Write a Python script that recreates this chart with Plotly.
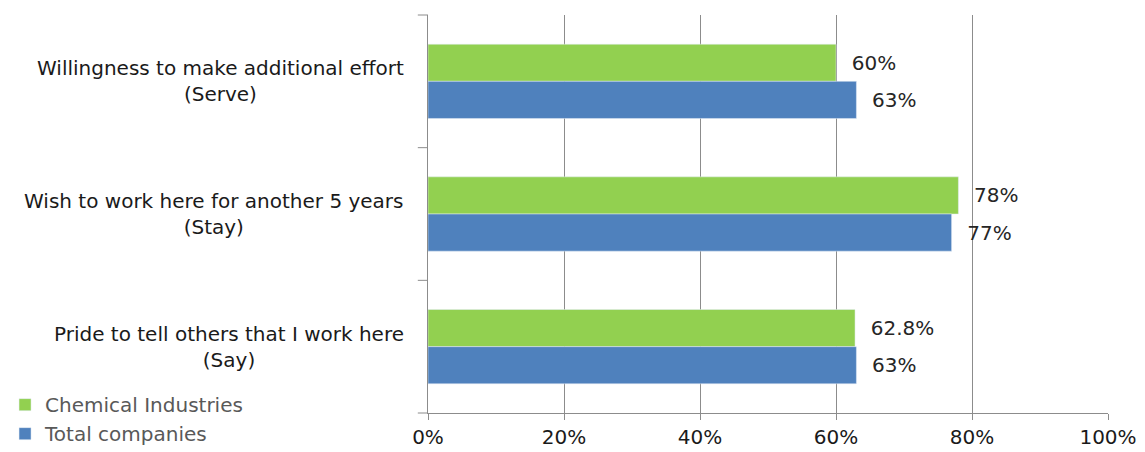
import plotly.graph_objects as go

# Engagement dimensions, listed top to bottom
categories = [
    "Willingness to make additional effort<br>(Serve)",
    "Wish to work here for another 5 years<br>(Stay)",
    "Pride to tell others that I work here<br>(Say)",
]
chemical = [60, 78, 62.8]
total = [63, 77, 63]
x_ticks = [0, 20, 40, 60, 80, 100]
x_tick_labels = ["0%", "20%", "40%", "60%", "80%", "100%"]

FONT = "DejaVu Sans"
SIZE = 20
GREEN = "#92D050"
BLUE = "#4F81BD"
GRID = "#8C8C8C"


def pct(vals):
    return ["  " + f"{v:g}%" for v in vals]


fig = go.Figure()
fig.add_trace(go.Bar(
    name="Chemical Industries", y=categories, x=chemical, orientation="h",
    marker=dict(color=GREEN), text=pct(chemical), textposition="outside",
    textfont=dict(size=SIZE, color="#262626", family=FONT), cliponaxis=False,
))
fig.add_trace(go.Bar(
    name="Total companies", y=categories, x=total, orientation="h",
    marker=dict(color=BLUE), text=pct(total), textposition="outside",
    textfont=dict(size=SIZE, color="#262626", family=FONT), cliponaxis=False,
))

# Category labels, lines centred within each block
for c in categories:
    fig.add_annotation(
        x=0, xref="paper", y=c, yref="y", xanchor="right", xshift=-22,
        text=c, align="center", showarrow=False,
        font=dict(size=SIZE, color="#1a1a1a", family=FONT),
    )

fig.update_layout(
    width=1145, height=452,
    margin=dict(l=428, r=37, t=15, b=39, autoexpand=False),
    paper_bgcolor="white", plot_bgcolor="white",
    barmode="group", bargap=0.44, bargroupgap=0,
    font=dict(family=FONT, size=SIZE, color="#1a1a1a"),
    legend=dict(
        x=-0.622, y=0.07, xanchor="left", yanchor="top",
        font=dict(size=SIZE, color="#595959", family=FONT),
        bgcolor="rgba(0,0,0,0)", itemwidth=30, tracegroupgap=0,
    ),
)
fig.update_xaxes(
    range=[0, 100], tickvals=x_ticks, ticktext=x_tick_labels,
    showgrid=True, gridcolor=GRID, gridwidth=1,
    showline=True, linecolor=GRID, linewidth=1,
    ticks="outside", ticklen=6, tickcolor=GRID,
    zeroline=False, tickfont=dict(size=SIZE, color="#1a1a1a", family=FONT),
    automargin=False,
)
fig.update_yaxes(
    autorange="reversed", showticklabels=False,
    showline=True, linecolor=GRID, linewidth=1,
    showgrid=False, zeroline=False, ticks="",
)

# Outer tick marks at the category boundaries on the value axis
for yb in [0, 1 / 3, 2 / 3, 1]:
    fig.add_shape(
        type="line", xref="paper", yref="paper", x0=-0.015, x1=0, y0=yb, y1=yb,
        line=dict(color=GRID, width=1),
    )

fig.write_html("out.html")
